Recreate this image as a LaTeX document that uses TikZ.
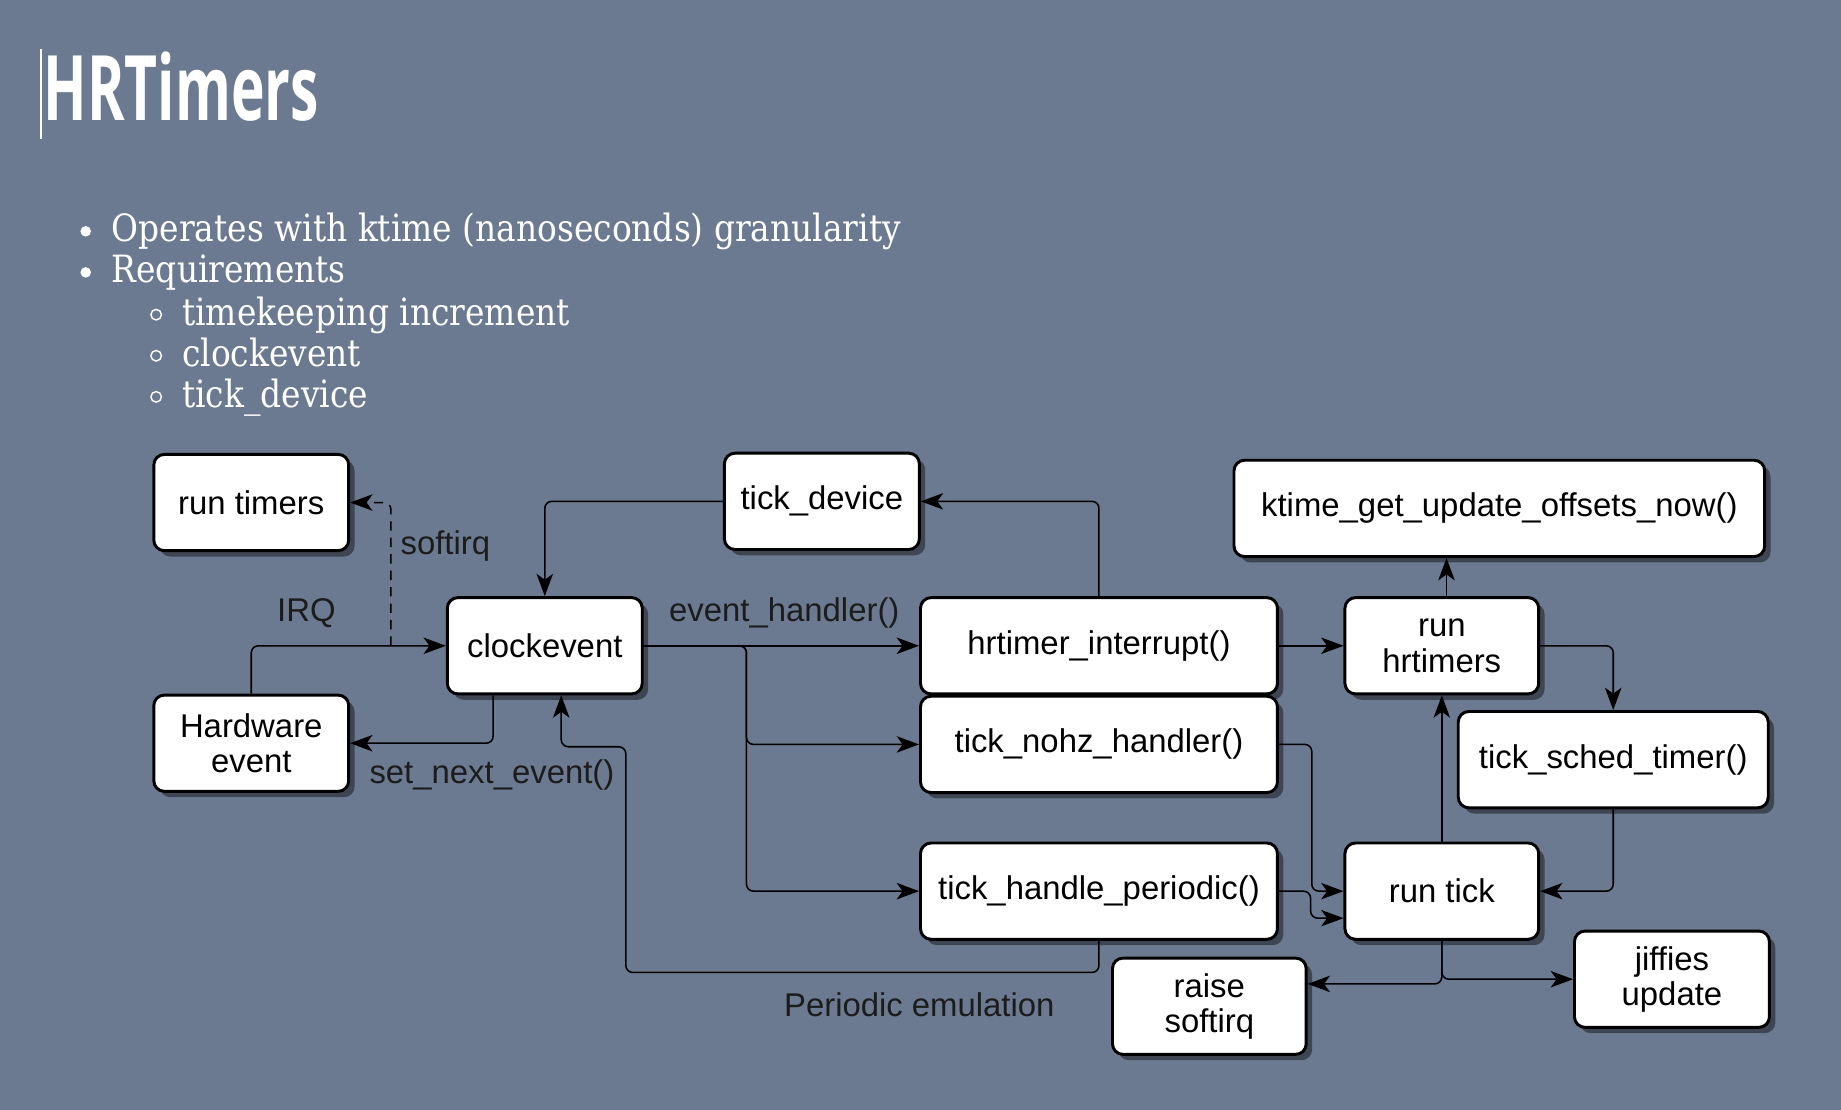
\documentclass[tikz,border=0pt]{standalone}
\usepackage{fontspec}
\setmainfont{DejaVu Serif}[FakeStretch=0.875]
\newfontfamily\diagfont{Liberation Sans}
\newfontfamily\titlefont{Open Sans}[FakeStretch=0.63]
\usetikzlibrary{arrows.meta,shadows}
\definecolor{slate}{HTML}{6B7A90}
\definecolor{shade}{HTML}{3E4553}
\definecolor{labelgray}{HTML}{1C1C1C}

\begin{document}
\begin{tikzpicture}[x=1pt, y=-1pt,
  box/.style={draw, line width=2.5pt, rounded corners=9pt, fill=white, minimum height=82pt, align=center,
    font=\diagfont\fontsize{28}{30}\selectfont, text=black,
    drop shadow={shadow xshift=5pt, shadow yshift=-5pt, fill=shade, opacity=1}},
  conn/.style={line width=1.3pt, rounded corners=6pt, -{Stealth[length=19pt, width=14pt, inset=5pt]}},
  lbl/.style={font=\diagfont\fontsize{28}{30}\selectfont, text=labelgray, inner sep=0pt},
  bul/.style={anchor=base west, text=white, inner sep=0pt, font=\fontsize{32}{34}\selectfont}]
\fill[slate] (0,0) rectangle (1568,945);
\useasboundingbox (0,0) rectangle (1568,945);

\draw[white, line width=1.2pt] (35,42) -- (35,118);
\node[anchor=base west, inner sep=0pt, text=white, font=\titlefont\bfseries\fontsize{77}{80}\selectfont] (title) at (37,103) {HRTimers};

\fill[white] (73,197) circle (4.5);
\node[bul] (b1) at (95,206) {Operates with ktime (nanoseconds) granularity};
\fill[white] (73,232) circle (4.5);
\node[bul] (b2) at (95,241) {Requirements};
\draw[white, line width=1.2pt] (133,268) circle (4.5);
\node[bul] (s1) at (155,277) {timekeeping increment};
\draw[white, line width=1.2pt] (133,303) circle (4.5);
\node[bul] (s2) at (155,312) {clockevent};
\draw[white, line width=1.2pt] (133,338) circle (4.5);
\node[bul] (s3) at (155,347) {tick\_device};

\node[box, minimum width=166pt] (rt) at (214,428) {run timers};
\node[box, minimum width=166pt] (hw) at (214,633) {Hardware\\event};
\node[box, minimum width=166pt] (ce) at (464,550) {clockevent};
\node[box, minimum width=166pt] (td) at (700,427) {tick\_device};
\node[box, minimum width=304pt] (hi) at (936,550) {hrtimer\_interrupt()};
\node[box, minimum width=304pt] (tn) at (936,634) {tick\_nohz\_handler()};
\node[box, minimum width=304pt] (tp) at (936,759) {tick\_handle\_periodic()};
\node[box, minimum width=452pt] (kt) at (1277,433) {ktime\_get\_update\_offsets\_now()};
\node[box, minimum width=165pt] (rh) at (1228,550) {run\\hrtimers};
\node[box, minimum width=264pt] (ts) at (1374,647) {tick\_sched\_timer()};
\node[box, minimum width=165pt] (rk) at (1228,759) {run tick};
\node[box, minimum width=165pt] (rs) at (1030,857) {raise\\softirq};
\node[box, minimum width=166pt] (jf) at (1424,834) {jiffies\\update};

\coordinate (irq) at (333,550);

\draw[conn] (hw.north) |- (ce.west);
\draw[conn, dash pattern=on 8pt off 6pt] (irq) |- (rt.east);
\draw[conn] ([xshift=-44pt]ce.south) |- (hw.east);
\draw[conn] (td.west) -| (ce.north);
\draw[conn] (hi.north) |- (td.east);
\draw[conn, line width=2pt] (ce.east) -- (hi.west);
\draw[conn] (ce.east) -| ([xshift=-147pt]tn.west) -- (tn.west);
\draw[conn] (ce.east) -| ([xshift=-147pt]tp.west) -- (tp.west);
\draw[conn] (tp.south) -- ++(0,27) -| (533,636) -| ([xshift=14pt]ce.south);
\draw[conn] (hi.east) -- (rh.west);
\draw[conn] ([xshift=4pt]rh.north) -- ([xshift=4pt]rh.north |- kt.south);
\draw[conn] (rh.east) -| (ts.north);
\draw[conn] (ts.south) |- (rk.east);
\draw[conn] (rk.north) -- (rh.south);
\draw[conn] (tn.east) -- ++(28,0) |- (rk.west);
\draw[conn] (tp.east) -- ++(27,0) |- ([yshift=-23pt]rk.west);
\draw[conn] (rk.south) |- ([yshift=19pt]rs.east);
\draw[conn] (rk.south) |- (jf.west);

\node[lbl] (irqlbl) at (261,522) {IRQ};
\node[lbl, anchor=west] (sirqlbl) at (341,465) {softirq};
\node[lbl] (evlbl) at (668,522) {event\_handler()};
\node[lbl] (snlbl) at (419,660) {set\_next\_event()};
\node[lbl] (pelbl) at (783,856) {Periodic emulation};
\end{tikzpicture}
\end{document}
